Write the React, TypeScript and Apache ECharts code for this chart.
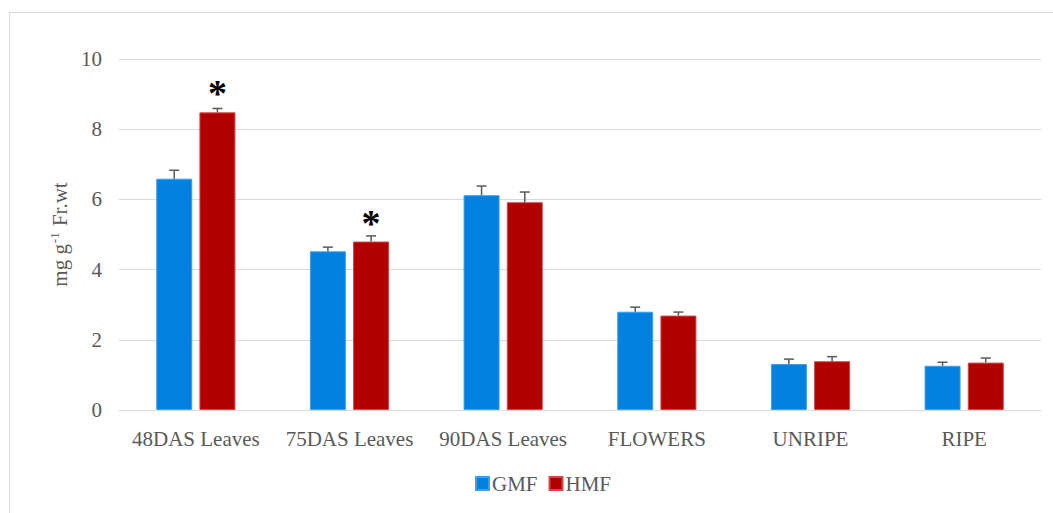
import React, { useEffect, useRef } from "react";
import * as echarts from "echarts";

const categories = ["48DAS Leaves", "75DAS Leaves", "90DAS Leaves", "FLOWERS", "UNRIPE", "RIPE"];
const gmfValues = [6.59, 4.52, 6.12, 2.8, 1.31, 1.26];
const gmfErrors = [0.24, 0.12, 0.26, 0.13, 0.14, 0.1];
const hmfValues = [8.48, 4.8, 5.92, 2.69, 1.39, 1.35];
const hmfErrors = [0.11, 0.16, 0.29, 0.1, 0.13, 0.13];
const hmfSignificant = [true, true, false, false, false, false];
const seriesNames = ["GMF", "HMF"];
const yTicks = { min: 0, max: 10, interval: 2 };

const FONT = "'Liberation Serif', 'Times New Roman', serif";
const GMF_COLOR = "#0081DF";
const HMF_COLOR = "#B20000";
const BAR_W = 36;
const BAR_GAP = 7.2;

export default function App() {
  const ref = useRef<HTMLDivElement>(null);
  useEffect(() => {
    if (!ref.current) return;
    const chart = echarts.init(ref.current, undefined, { renderer: "svg" });
    const offset = BAR_W / 2 + BAR_GAP / 2;
    const errData: number[][] = [];
    categories.forEach((_, i) => {
      errData.push([i, gmfValues[i], gmfErrors[i], -1]);
      errData.push([i, hmfValues[i], hmfErrors[i], 1]);
    });
    chart.setOption({
      animation: false,
      backgroundColor: "#ffffff",
      graphic: [
        {
          type: "rect",
          shape: { x: 9.5, y: 12.5, width: 1100, height: 600 },
          style: { fill: "none", stroke: "#d9d9d9", lineWidth: 1 },
          silent: true,
        },
      ],
      grid: { left: 119, right: 12, top: 59, bottom: 103 },
      legend: {
        data: seriesNames,
        left: 470,
        top: 468,
        itemWidth: 13,
        itemHeight: 13,
        itemGap: 11,
        icon: "rect",
        textStyle: { fontFamily: FONT, fontSize: 21, color: "#595959", padding: [0, 0, 0, -2] },
      },
      xAxis: {
        type: "category",
        data: categories,
        axisTick: { show: false },
        axisLine: { lineStyle: { color: "#d9d9d9", width: 1 } },
        axisLabel: { fontFamily: FONT, fontSize: 21, color: "#595959", margin: 18, interval: 0 },
      },
      yAxis: {
        type: "value",
        min: yTicks.min,
        max: yTicks.max,
        interval: yTicks.interval,
        name: "{a|mg g}{s|-1}{a| Fr.wt}",
        nameLocation: "middle",
        nameGap: 48,
        nameRotate: 90,
        nameTextStyle: {
          rich: {
            a: { fontFamily: FONT, fontSize: 21, color: "#595959" },
            s: { fontFamily: FONT, fontSize: 13, color: "#595959", verticalAlign: "top", padding: [0, 1, 10, 1] },
          },
        },
        axisLine: { show: false },
        axisTick: { show: false },
        splitLine: { lineStyle: { color: "#d9d9d9", width: 1 } },
        axisLabel: { fontFamily: FONT, fontSize: 21, color: "#595959", margin: 17 },
      },
      series: [
        {
          name: "GMF",
          type: "bar",
          data: gmfValues,
          barWidth: BAR_W,
          barGap: "20%",
          itemStyle: { color: GMF_COLOR, borderColor: "#3aa0ee", borderWidth: 1 },
        },
        {
          name: "HMF",
          type: "bar",
          data: hmfValues.map((v, i) =>
            hmfSignificant[i]
              ? {
                  value: v,
                  label: {
                    show: true,
                    position: "top",
                    distance: 0,
                    formatter: "*",
                    fontFamily: FONT,
                    fontWeight: "bold",
                    fontSize: 38,
                    color: "#000000",
                  },
                }
              : v
          ),
          barWidth: BAR_W,
          barGap: "20%",
          itemStyle: { color: HMF_COLOR, borderColor: "#d04848", borderWidth: 1 },
        },
        {
          type: "custom",
          data: errData,
          z: 10,
          silent: true,
          renderItem: (params: any, api: any) => {
            const idx = api.value(0);
            const val = api.value(1);
            const err = api.value(2);
            const side = api.value(3);
            const base = api.coord([idx, val]);
            const top = api.coord([idx, val + err]);
            const x = base[0] + side * offset;
            const style = { stroke: "#595959", lineWidth: 1.5 };
            return {
              type: "group",
              children: [
                { type: "line", shape: { x1: x, y1: base[1], x2: x, y2: top[1] }, style },
                { type: "line", shape: { x1: x - 5, y1: top[1], x2: x + 5, y2: top[1] }, style },
              ],
            };
          },
        },
      ],
    });
    return () => chart.dispose();
  }, []);
  return (
    <div
      ref={ref}
      style={{ position: "fixed", left: 0, top: 0, width: 1053, height: 513, background: "#fff" }}
    />
  );
}
